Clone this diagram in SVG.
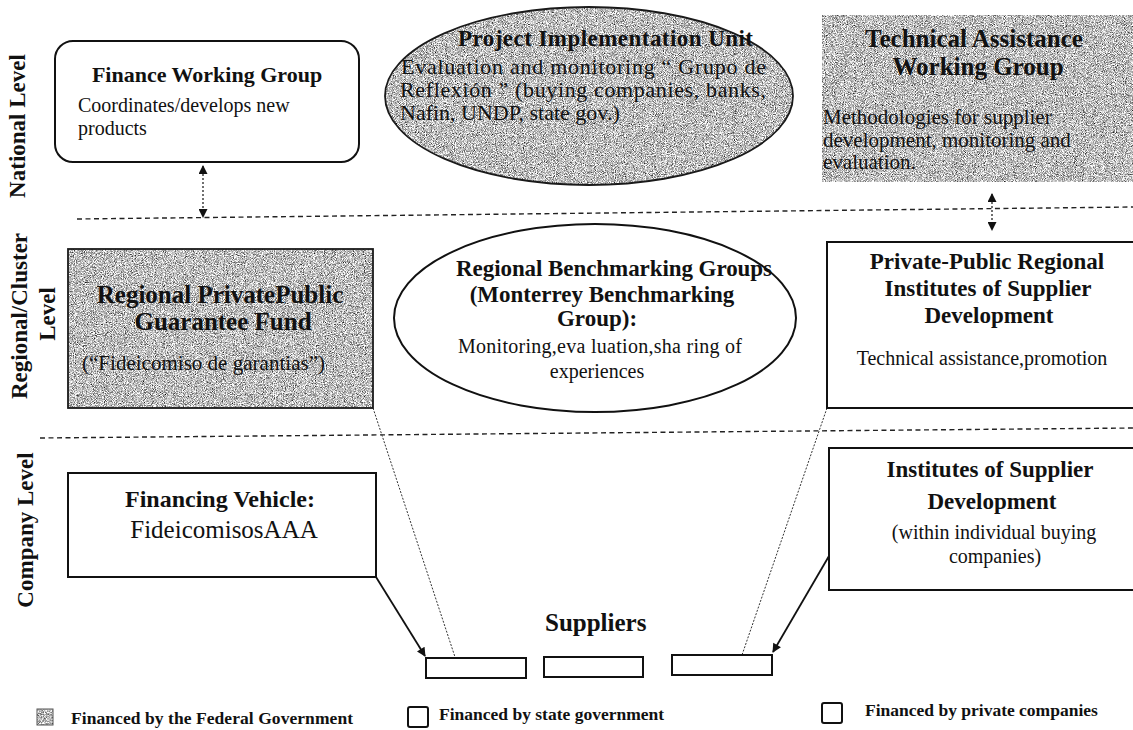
<svg xmlns="http://www.w3.org/2000/svg" width="1133" height="730" viewBox="0 0 1133 730">
  <defs>
    <!-- speckled grey fill used for federally financed bodies -->
    <filter id="grain" x="0" y="0" width="1" height="1" color-interpolation-filters="sRGB">
      <feTurbulence type="fractalNoise" baseFrequency="1.1" numOctaves="2" seed="7" result="noise"/>
      <feColorMatrix in="noise" type="matrix" values="1.2 1.2 0 0 -0.46  1.2 1.2 0 0 -0.46  1.2 1.2 0 0 -0.46  0 0 0 0 1" result="gray"/>
      <feComposite in="gray" in2="SourceGraphic" operator="in"/>
    </filter>
    <marker id="head" viewBox="0 0 10 10" refX="9" refY="5" markerWidth="11" markerHeight="9" markerUnits="userSpaceOnUse" orient="auto-start-reverse">
      <path d="M0,0 L10,5 L0,10 z" fill="#111"/>
    </marker>
  </defs>
  <style>
    .t { font-family: "Liberation Serif", "Times New Roman", serif; fill: #111; }
    .b { font-weight: bold; }
    .box { fill: #fff; stroke: #111; stroke-width: 2; }
    .shade { fill: #999; stroke: none; filter: url(#grain); }
    .edge { fill: none; stroke: #1a1a1a; stroke-width: 1.8; }
    .sep { fill: none; stroke: #222; stroke-width: 1.4; stroke-dasharray: 5 3.5; }
    .dot { fill: none; stroke: #333; stroke-width: 1; stroke-dasharray: 2 1.5; }
    .link { fill: none; stroke: #111; stroke-width: 1.8; marker-end: url(#head); }
    .both { fill: none; stroke: #111; stroke-width: 1.2; stroke-dasharray: 2 2; marker-start: url(#head); marker-end: url(#head); }
  </style>

  <rect width="1133" height="730" fill="#fff"/>

  <!-- level captions -->
  <g id="levels">
    <text class="t b" font-size="23" text-anchor="middle" transform="translate(25 126) rotate(-90)">National Level</text>
    <text class="t b" font-size="23" text-anchor="middle" transform="translate(27 316) rotate(-90)">Regional/Cluster</text>
    <text class="t b" font-size="23" text-anchor="middle" transform="translate(55 314) rotate(-90)">Level</text>
    <text class="t b" font-size="23" text-anchor="middle" transform="translate(33 530) rotate(-90)">Company Level</text>
  </g>

  <!-- level separators -->
  <g id="separators">
    <line class="sep" x1="77" y1="219" x2="1133" y2="207"/>
    <line class="sep" x1="40" y1="438" x2="1133" y2="428"/>
  </g>

  <!-- connectors -->
  <g id="connectors">
    <line class="both" x1="203" y1="166" x2="203" y2="217"/>
    <line class="both" x1="992" y1="194" x2="992" y2="230"/>
    <line class="dot" x1="373" y1="408" x2="455" y2="657"/>
    <line class="dot" x1="827" y1="408" x2="742" y2="655"/>
    <line class="link" x1="376" y1="577" x2="425" y2="656"/>
    <line class="link" x1="829" y1="556" x2="773" y2="652"/>
  </g>

  <!-- national level -->
  <g id="finance-working-group">
    <rect class="box" x="55" y="41" width="304" height="121" rx="18"/>
    <text class="t b" font-size="22" x="207" y="82" text-anchor="middle">Finance Working Group</text>
    <text class="t" font-size="20" x="78" y="112">Coordinates/develops new</text>
    <text class="t" font-size="20" x="78" y="135">products</text>
  </g>

  <g id="project-implementation-unit">
    <ellipse class="shade" cx="589" cy="96" rx="204" ry="89"/>
    <ellipse class="edge" cx="589" cy="96" rx="204" ry="89"/>
    <text class="t b" font-size="23" x="458" y="46" textLength="295">Project Implementation Unit</text>
    <text class="t" font-size="22" x="401" y="74" textLength="365">Evaluation and monitoring “ Grupo de</text>
    <text class="t" font-size="22" x="400" y="97" textLength="366">Reflexión ” (buying companies, banks,</text>
    <text class="t" font-size="22" x="400" y="120">Nafin, UNDP, state  gov.)</text>
  </g>

  <g id="technical-assistance-working-group">
    <rect class="shade" x="822" y="15" width="311" height="167"/>
    <text class="t b" font-size="25" x="974" y="47" text-anchor="middle">Technical Assistance</text>
    <text class="t b" font-size="25" x="978" y="75" text-anchor="middle">Working Group</text>
    <text class="t" font-size="21" x="823" y="124">Methodologies for supplier</text>
    <text class="t" font-size="21" x="823" y="147">development, monitoring and</text>
    <text class="t" font-size="21" x="823" y="169">evaluation.</text>
  </g>

  <!-- regional / cluster level -->
  <g id="guarantee-fund">
    <rect class="shade" x="68" y="249" width="305" height="159"/>
    <rect class="edge" x="68" y="249" width="305" height="159"/>
    <text class="t b" font-size="25" x="220" y="303" text-anchor="middle">Regional PrivatePublic</text>
    <text class="t b" font-size="25" x="223" y="330" text-anchor="middle">Guarantee Fund</text>
    <text class="t" font-size="21" x="82" y="370" textLength="243">(“Fideicomiso  de garantias”)</text>
  </g>

  <g id="benchmarking-groups">
    <ellipse class="box" cx="595" cy="318" rx="201" ry="94"/>
    <text class="t b" font-size="23" x="456" y="276" textLength="316">Regional Benchmarking Groups</text>
    <text class="t b" font-size="23" x="602" y="302" text-anchor="middle">(Monterrey Benchmarking</text>
    <text class="t b" font-size="23" x="597" y="326" text-anchor="middle">Group):</text>
    <text class="t" font-size="20" x="458" y="353" textLength="284">Monitoring,eva luation,sha ring of</text>
    <text class="t" font-size="20" x="597" y="378" text-anchor="middle">experiences</text>
  </g>

  <g id="regional-institutes">
    <rect class="box" x="827" y="242" width="310" height="166"/>
    <text class="t b" font-size="23" x="987" y="269" text-anchor="middle">Private-Public Regional</text>
    <text class="t b" font-size="23" x="988" y="296" text-anchor="middle">Institutes of Supplier</text>
    <text class="t b" font-size="23" x="989" y="323" text-anchor="middle">Development</text>
    <text class="t" font-size="20" x="982" y="365" text-anchor="middle">Technical assistance,promotion</text>
  </g>

  <!-- company level -->
  <g id="financing-vehicle">
    <rect class="box" x="68" y="473" width="308" height="104"/>
    <text class="t b" font-size="24" x="220" y="507" text-anchor="middle">Financing Vehicle:</text>
    <text class="t" font-size="25" x="224" y="538" text-anchor="middle">FideicomisosAAA</text>
  </g>

  <g id="company-institutes">
    <rect class="box" x="829" y="448" width="308" height="142"/>
    <text class="t b" font-size="23" x="990" y="477" text-anchor="middle">Institutes of Supplier</text>
    <text class="t b" font-size="23" x="992" y="509" text-anchor="middle">Development</text>
    <text class="t" font-size="20" x="994" y="539" text-anchor="middle">(within individual buying</text>
    <text class="t" font-size="20" x="995" y="563" text-anchor="middle">companies)</text>
  </g>

  <g id="suppliers">
    <text class="t b" font-size="25" x="545" y="631">Suppliers</text>
    <rect class="box" x="426" y="658" width="100" height="20"/>
    <rect class="box" x="544" y="657" width="99" height="20"/>
    <rect class="box" x="672" y="655" width="100" height="20"/>
  </g>

  <!-- legend -->
  <g id="legend">
    <rect class="shade" x="37" y="709" width="16" height="16"/>
    <rect fill="none" stroke="#555" stroke-width="1" x="37" y="709" width="16" height="16"/>
    <text class="t b" font-size="17.5" x="71" y="724" textLength="282">Financed by the Federal Government</text>
    <rect class="box" x="408" y="707" width="20" height="20" rx="2"/>
    <text class="t b" font-size="17.5" x="439" y="720">Financed by state government</text>
    <rect class="box" x="822" y="703" width="20" height="20" rx="2"/>
    <text class="t b" font-size="17.5" x="865" y="716">Financed by private companies</text>
  </g>
</svg>
